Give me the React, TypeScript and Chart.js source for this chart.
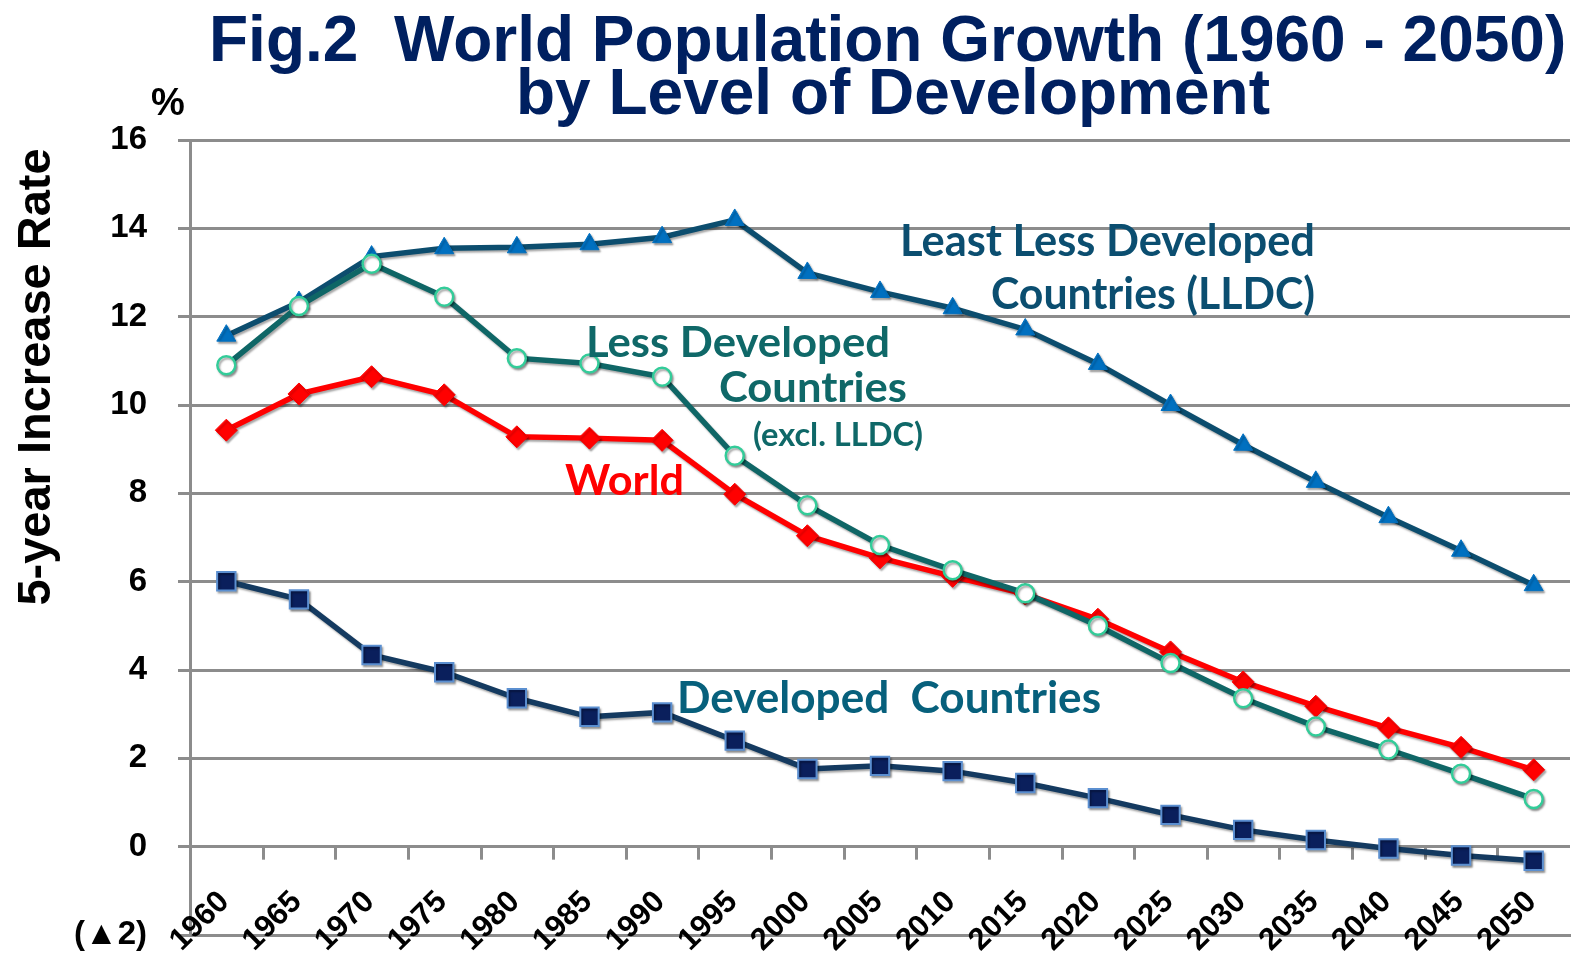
import React, { useEffect, useRef } from 'react';
import { Chart, registerables } from 'chart.js';

Chart.register(...registerables);

const years = ['1960', '1965', '1970', '1975', '1980', '1985', '1990', '1995', '2000', '2005', '2010', '2015', '2020', '2025', '2030', '2035', '2040', '2045', '2050'];

const lldc = [11.57, 12.33, 13.36, 13.55, 13.57, 13.64, 13.8, 14.19, 12.99, 12.56, 12.19, 11.71, 10.93, 10.0, 9.1, 8.26, 7.46, 6.7, 5.92];
const ldc = [10.9, 12.24, 13.2, 12.45, 11.06, 10.94, 10.64, 8.85, 7.73, 6.83, 6.26, 5.74, 5.0, 4.16, 3.36, 2.72, 2.2, 1.65, 1.08];
const world = [9.43, 10.25, 10.64, 10.23, 9.28, 9.25, 9.2, 7.98, 7.04, 6.54, 6.12, 5.72, 5.15, 4.41, 3.73, 3.18, 2.69, 2.25, 1.74];
const developed = [6.01, 5.6, 4.34, 3.95, 3.36, 2.94, 3.04, 2.4, 1.76, 1.83, 1.71, 1.44, 1.1, 0.72, 0.38, 0.15, -0.04, -0.2, -0.32];

const yMin = -2;
const yMax = 16;
const yStep = 2;
const negativeLabel = '(▲2)';

const titleLines = ['Fig.2  World Population Growth (1960 - 2050)', 'by Level of Development'];
const yTitle = '5-year Increase Rate';
const unitLabel = '%';

const GRID = '#8C8C8C';
const ARIAL = '"Liberation Sans", Arial, sans-serif';
const CAL = 'Lato, "Open Sans", sans-serif';

type Note = { text: string; left: number; right: number; base: number; cap: number; color: string };
const notes: Note[] = [
  { text: 'Least Less Developed', left: 900, right: 1315, base: 256, cap: 32, color: '#0B4E70' },
  { text: 'Countries (LLDC)', left: 991, right: 1315, base: 309, cap: 32, color: '#0B4E70' },
  { text: 'Less Developed', left: 586, right: 890, base: 357, cap: 30, color: '#0F6868' },
  { text: 'Countries', left: 719, right: 907, base: 402, cap: 30, color: '#0F6868' },
  { text: '(excl. LLDC)', left: 753, right: 923, base: 446, cap: 23, color: '#0F6868' },
  { text: 'World', left: 565, right: 684, base: 495, cap: 30, color: '#FF0000' },
  { text: 'Developed  Countries', left: 677, right: 1101, base: 713, cap: 32, color: '#07607C' },
];

function drawFitted(ctx: CanvasRenderingContext2D, n: Note) {
  const size = n.cap / 0.72;
  ctx.save();
  ctx.font = `bold ${size}px ${CAL}`;
  ctx.textAlign = 'left';
  ctx.textBaseline = 'alphabetic';
  const w = ctx.measureText(n.text).width;
  const sx = (n.right - n.left) / w;
  ctx.translate(n.left, n.base);
  ctx.scale(sx, 1);
  ctx.fillStyle = n.color;
  ctx.fillText(n.text, 0, 0);
  ctx.restore();
}

const overlay = {
  id: 'overlay',
  beforeDatasetsDraw(chart: any) {
    const ctx: CanvasRenderingContext2D = chart.ctx;
    const xs = chart.scales.x;
    const ys = chart.scales.y;
    const y0 = ys.getPixelForValue(0);
    const yBottom = ys.getPixelForValue(yMin);
    ctx.save();
    ctx.strokeStyle = GRID;
    ctx.lineWidth = 3;
    for (let i = 0; i < years.length - 1; i++) {
      const xb = Math.round((xs.getPixelForValue(i) + xs.getPixelForValue(i + 1)) / 2) + 0.5;
      ctx.beginPath();
      ctx.moveTo(xb, y0);
      ctx.lineTo(xb, y0 + 13);
      ctx.stroke();
    }
    // category labels, rotated 45 degrees, ending under each category centre
    ctx.fillStyle = '#000';
    ctx.font = `bold 31px ${ARIAL}`;
    ctx.textAlign = 'right';
    ctx.textBaseline = 'middle';
    years.forEach((lab, i) => {
      const x = xs.getPixelForValue(i);
      ctx.save();
      ctx.translate(x - 2, yBottom - 38);
      ctx.rotate(-Math.PI / 4);
      ctx.fillText(lab, 0, 0);
      ctx.restore();
    });
    ctx.restore();
  },
  beforeDatasetDraw(chart: any) {
    const ctx: CanvasRenderingContext2D = chart.ctx;
    ctx.save();
    ctx.shadowColor = 'rgba(0,0,0,0.35)';
    ctx.shadowOffsetX = 1.5;
    ctx.shadowOffsetY = 2;
    ctx.shadowBlur = 2;
  },
  afterDatasetDraw(chart: any) {
    chart.ctx.restore();
  },
  afterDraw(chart: any) {
    const ctx: CanvasRenderingContext2D = chart.ctx;
    ctx.save();
    ctx.fillStyle = '#002060';
    ctx.font = `bold 64px ${ARIAL}`;
    ctx.textAlign = 'left';
    ctx.textBaseline = 'alphabetic';
    ctx.fillText(titleLines[0], 209, 61);
    ctx.fillText(titleLines[1], 516, 114);
    ctx.fillStyle = '#000';
    ctx.font = `bold 38px ${ARIAL}`;
    ctx.fillText(unitLabel, 151, 115);
    ctx.save();
    ctx.translate(50, 377);
    ctx.rotate(-Math.PI / 2);
    ctx.font = `bold 47px ${ARIAL}`;
    ctx.textAlign = 'center';
    ctx.fillText(yTitle, 0, 0);
    ctx.restore();
    ctx.restore();
    notes.forEach((n) => drawFitted(ctx, n));
  },
};

export default function App() {
  const ref = useRef<HTMLCanvasElement | null>(null);
  useEffect(() => {
    document.body.style.margin = '0';
    if (!ref.current) return;
    const chart = new Chart(ref.current, {
      type: 'line',
      data: {
        labels: years,
        datasets: [
          { label: 'Less Developed Countries (excl. LLDC)', data: ldc, borderColor: '#0F6666', borderWidth: 5.5, pointStyle: 'circle', pointRadius: 9, pointBackgroundColor: '#FFFFFF', pointBorderColor: '#33CC99', pointBorderWidth: 2.5, tension: 0 },
          { label: 'World', data: world, borderColor: '#FF0000', borderWidth: 5.5, pointStyle: 'rectRot', pointRadius: 11, pointBackgroundColor: '#FF0000', pointBorderColor: '#FF0000', pointBorderWidth: 1, tension: 0 },
          { label: 'Least Less Developed Countries (LLDC)', data: lldc, borderColor: '#0C4D6E', borderWidth: 5.5, pointStyle: 'triangle', pointRadius: 11, pointBackgroundColor: '#0070C0', pointBorderColor: '#0070C0', pointBorderWidth: 1, tension: 0 },
          { label: 'Developed Countries', data: developed, borderColor: '#143A60', borderWidth: 5.5, pointStyle: 'rect', pointRadius: 13, pointBackgroundColor: '#0A1F5C', pointBorderColor: '#5B8FD0', pointBorderWidth: 2, tension: 0 },
        ],
      },
      options: {
        responsive: false,
        animation: false,
        devicePixelRatio: 1,
        layout: { padding: { top: 140, left: 0, right: 0, bottom: 0 } },
        plugins: { legend: { display: false }, title: { display: false }, tooltip: { enabled: false } },
        scales: {
          x: {
            offset: true,
            grid: { display: false, offset: true },
            border: { display: true, color: GRID, width: 3 },
            ticks: { display: false, autoSkip: false },
            afterFit: (s: any) => { s.height = 26; s.paddingLeft = 0; s.paddingRight = 0; },
          },
          y: {
            min: yMin,
            max: yMax,
            ticks: {
              stepSize: yStep,
              padding: 31,
              color: '#000',
              font: { family: ARIAL, size: 33, weight: 'bold' },
              callback: (v: any) => (Number(v) === yMin ? negativeLabel : String(v)),
            },
            grid: { color: GRID, lineWidth: 3, tickLength: 12, drawTicks: true },
            border: { display: true, color: GRID, width: 3 },
            afterFit: (s: any) => { s.width = 190; s.paddingTop = 0; s.paddingBottom = 0; },
          },
        },
      },
      plugins: [overlay],
    } as any);
    return () => chart.destroy();
  }, []);
  return <canvas ref={ref} width={1585} height={961} style={{ display: 'block' }} />;
}
